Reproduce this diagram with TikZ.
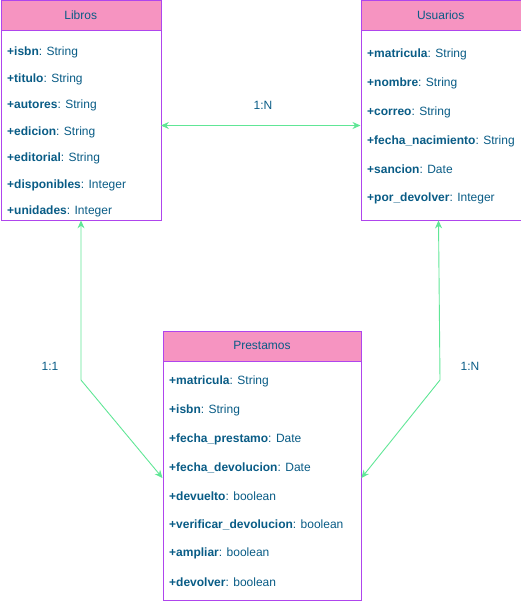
\documentclass[tikz,border=0pt]{standalone}
\usepackage{fontspec}
\setmainfont{Liberation Sans}
\usetikzlibrary{arrows.meta}
\definecolor{hdrfill}{HTML}{F694C1}
\definecolor{boxline}{HTML}{AF45ED}
\definecolor{txtcol}{HTML}{095C86}
\definecolor{linkcol}{HTML}{60E696}
\tikzset{
  hdr/.style={draw=boxline, fill=hdrfill, text=txtcol, anchor=north west,
    inner sep=0pt, font=\fontsize{12}{14}\selectfont},
  body/.style={draw=boxline, fill=white, anchor=north west, inner sep=0pt},
  attr/.style={anchor=west, inner sep=0pt, text=txtcol, font=\fontsize{12}{14}\selectfont},
  link/.style={draw=linkcol, line width=0.9pt, {Stealth[length=8pt,width=7pt]}-{Stealth[length=8pt,width=7pt]}},
  card/.style={text=txtcol, font=\fontsize{12}{14}\selectfont}
}
\begin{document}
\begin{tikzpicture}[x=1pt, y=-1pt]
  \useasboundingbox (0,0) rectangle (521,602);

  % --- Libros ---
  \node[body, minimum width=160pt, minimum height=190pt] (librosb) at (0.5,30) {};
  \node[hdr, minimum width=160pt, minimum height=30pt] (libros) at (0.5,0.5) {Libros};
  \foreach \n/\t [count=\i] in {isbn/String, titulo/String, autores/String,
      edicion/String, editorial/String, disponibles/Integer, unidades/Integer}
    \node[attr] (lib\i) at (7, 52.5+26.5*\i-26.5) {\textbf{+\n}: \t};

  % --- Usuarios ---
  \node[body, minimum width=160pt, minimum height=190pt] (usuariosb) at (360.5,30) {};
  \node[hdr, minimum width=160pt, minimum height=30pt] (usuarios) at (360.5,0.5) {Usuarios};
  \foreach \n/\t [count=\i] in {matricula/String, nombre/String, correo/String,
      fecha\_nacimiento/String, sancion/Date, por\_devolver/Integer}
    \node[attr] (usu\i) at (367, 54.5+28.8*\i-28.8) {\textbf{+\n}: \t};

  % --- Prestamos ---
  \node[body, minimum width=198.5pt, minimum height=240pt] (prestamosb) at (162.5,360) {};
  \node[hdr, minimum width=198.5pt, minimum height=30pt] (prestamos) at (162.5,330.5) {Prestamos};
  \foreach \n/\t [count=\i] in {matricula/String, isbn/String, fecha\_prestamo/Date,
      fecha\_devolucion/Date, devuelto/boolean, verificar\_devolucion/boolean,
      ampliar/boolean, devolver/boolean}
    \node[attr] (pre\i) at (169, 381.5+28.7*\i-28.7) {\textbf{+\n}: \t};

  % --- relaciones ---
  \coordinate (codoL) at (81,380);
  \coordinate (codoR) at (440,380);
  \draw[link] (librosb.east |- 0,125.5) -- (usuariosb.west |- 0,125.5);
  \draw[link] (librosb.south -| codoL) -- (codoL) -- (prestamosb.west |- 0,478);
  \draw[link] (usuariosb.south -| 438.5,0) -- (codoR) -- (prestamosb.east |- 0,478);

  % cardinalidades
  \node[card] (cardLU) at (263,105) {1:N};
  \node[card] (cardLP) at (50,366) {1:1};
  \node[card] (cardUP) at (470,366) {1:N};
\end{tikzpicture}
\end{document}
